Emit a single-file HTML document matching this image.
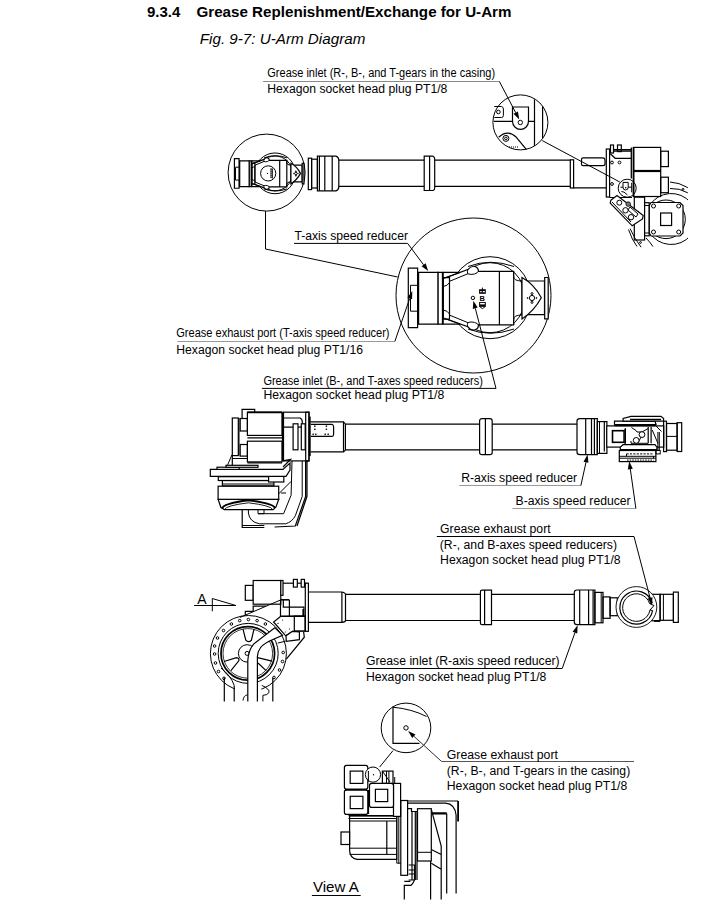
<!DOCTYPE html>
<html><head><meta charset="utf-8">
<style>
html,body{margin:0;padding:0;background:#fff;width:726px;height:912px;overflow:hidden}
svg{position:absolute;left:0;top:0;display:block}
text{font-family:"Liberation Sans",sans-serif;fill:#000}
.l{font-size:12px}
.s{fill:none;stroke:#000;stroke-width:1.2}
.t{fill:none;stroke:#000;stroke-width:1}
.g{fill:none;stroke:#555;stroke-width:1}
.w{fill:#fff;stroke:#000;stroke-width:1.2}
#wrist *{vector-effect:non-scaling-stroke}
</style></head><body>
<svg width="726" height="912" viewBox="0 0 726 912">
<!-- Title -->
<text x="147" y="17" style="font-size:15px;font-weight:bold">9.3.4</text>
<text x="196.5" y="17" style="font-size:15px;font-weight:bold" textLength="315" lengthAdjust="spacingAndGlyphs">Grease Replenishment/Exchange for U-Arm</text>
<text x="199.8" y="43.6" style="font-size:15px;font-style:italic" textLength="165.5" lengthAdjust="spacingAndGlyphs">Fig. 9-7: U-Arm Diagram</text>

<!-- ===== WRIST definition (big coords) ===== -->
<defs>
<g id="wrist">
 <circle cx="490" cy="297.7" r="41" class="t"/>
 <circle cx="490" cy="297.7" r="35" class="t"/>
 <path class="t" d="M468 266.5 Q490 258 514 266.5 M468 329 Q490 337.5 514 329"/>
 <!-- bands & central trapezoid -->
 <path class="w" d="M443.2 278.6 L467.8 269.6 Q471 265.8 474.5 266.3 Q478.6 267.4 478.4 271.4 H513.7 V324.9 H478.4 Q478.6 329 474.5 330 Q471 330.6 467.8 326.8 L443.2 317.8 Z"/>
 <path class="t" d="M449.5 281.3 L467.8 273.8 Q471 275 474.5 274 Q477.5 273 478.4 271.4 M449.5 315.1 L467.8 322.6 Q471 321.4 474.5 322.4 Q477.5 323.4 478.4 324.9"/>
 <path class="t" d="M467.8 269.6 Q467 272 467.8 273.8 M467.8 326.8 Q467 324.4 467.8 322.6"/>
 <line class="s" x1="499.4" y1="271.4" x2="499.4" y2="324.9"/>
 <path class="t" d="M513.7 271.4 Q512.8 278 515.5 279.8 Q518 281 522 281 M513.7 324.9 Q512.8 318 515.5 316.2 Q518 315 522 315"/>
 <!-- triangle end -->
 <rect class="w" x="522" y="281" width="22.5" height="33.7"/>
 <path class="w" d="M522 277.5 Q534 284 541.3 297.7 Q534 311 522 318.9 Z"/>
 <rect class="w" x="544.7" y="277.5" width="3.5" height="41.4"/>
 <circle class="t" cx="532" cy="298" r="2.6"/>
 <circle class="t" cx="532" cy="293.6" r="1"/><circle class="t" cx="532" cy="302.4" r="1"/>
 <circle class="t" cx="527.6" cy="298" r="0.5"/><circle class="t" cx="536.4" cy="298" r="0.5"/>
 <!-- left parts -->
 <path class="s" d="M442.75 272.4 H460.1 M442.75 324.2 H460.1"/>
 <path class="w" d="M443.2 277.7 H449.5 V319.1 H443.2 Z"/>
 <path class="t" d="M443.2 278.6 L460.1 272.4 M443.2 317.8 L460.1 324.2 M449.5 281.3 V315.1"/>
 <path class="t" d="M443.2 286.5 Q447.5 286 449.5 282.5 M443.2 310 Q447.5 310.5 449.5 314"/>
 <rect class="w" x="437.9" y="272.4" width="4.85" height="51.8"/>
 <line x1="442.75" y1="272.4" x2="442.75" y2="324.2" stroke="#000" stroke-width="1.8"/>
 <rect class="w" x="417.6" y="272.4" width="20.3" height="51.8"/>
 <line x1="418.3" y1="272.4" x2="418.3" y2="324.2" stroke="#000" stroke-width="1.8"/>
 <rect class="w" x="408.3" y="268.2" width="9.3" height="59.5"/>
 <path class="t" d="M417.6 285.3 H410.5 V311.2 H417.6"/>
</g>
</defs>

<!-- ===== TOP ARM ===== -->
<circle cx="266.6" cy="172.6" r="38.5" class="t"/>
<use href="#wrist" transform="translate(31.5,25.4) scale(0.497)"/>
<circle class="t" cx="268.2" cy="173.4" r="7.6"/><circle cx="267.5" cy="173.4" r="0.6" fill="#000"/>
<path d="M271 168.5 V178.5" stroke="#000" stroke-width="1.6" stroke-dasharray="1.2 0.8"/><path class="t" d="M272.3 168.5 V178.5"/>
<path class="t" d="M265.5 211.1 V249 L397.7 277"/>

<!-- flange pieces -->
<rect class="s" x="308.3" y="158.2" width="3.3" height="31.4"/>
<rect class="s" x="311.6" y="159.2" width="5.8" height="28.8"/>
<path class="s" d="M317.4 156.1 H336 Q338.8 157 338.8 160 V187 Q338.8 190 336 190.8 H317.4 Z"/>
<path class="s" d="M319.4 156.1 V190.8 M324.8 156.1 V190.8 M332.2 156.1 V190.8"/>
<!-- tube -->
<path class="s" d="M338.8 160.2 H424.2 M434.7 160.2 H570.3 M338.8 186.3 H424.2 M434.7 186.3 H570.3"/>
<path class="s" d="M424.2 156.2 H433 Q434.7 157 434.7 159 V188 Q434.7 190 433 190.5 H424.2 Z M429.6 156.2 V190.5"/>
<rect class="s" x="570.3" y="159.8" width="3.3" height="28.2"/>
<path class="s" d="M573.6 187.9 H606.3"/>
<path class="s" d="M581.5 159.5 Q581.5 157.8 583 157.8 H603 Q605 158 605 160 V164 Q605 165.6 603 165.6 H583 Q581.5 165.6 581.5 164 Z"/>
<rect class="s" x="606.3" y="149" width="3.3" height="48"/>
<!-- casing -->
<rect class="s" x="610.5" y="145" width="3" height="8"/>
<rect class="s" x="617.5" y="145" width="3.8" height="6.6"/>
<path class="s" d="M613.4 149.6 H631.3 M613.4 151.2 H631.3 M610.3 153.8 L615.2 158.3 H631.3 M609.6 197.5 H632"/>
<path d="M631.3 147.6 V178.6" stroke="#000" stroke-width="1.3"/><path d="M633.7 147.4 V197" stroke="#000" stroke-width="1.6"/>
<rect class="s" x="633.3" y="147.4" width="27.4" height="23.1"/>
<rect class="s" x="660.7" y="151.2" width="7.7" height="15.4"/>
<rect class="s" x="633.3" y="171.5" width="27.4" height="25"/>
<rect class="s" x="660.7" y="177.2" width="7.7" height="15.5"/>
<circle class="t" cx="612" cy="162.5" r="1.4"/><circle class="t" cx="619.5" cy="162.5" r="1.4"/><circle class="t" cx="612" cy="184" r="1.4"/>
<circle class="t" cx="627.2" cy="188.2" r="9"/>
<path class="t" d="M623 182.4 H628.2 V187.2 Q628.2 190 625.6 190 Q623 190 623 187.2 Z M620.5 187.2 H623 M628.2 187.2 H631.7 M631.7 182.7 V192.3"/><path class="t" d="M621.3 191.6 Q623.6 190.8 627.5 195"/>
<circle cx="625.7" cy="187.8" r="0.8" fill="#000"/>
<!-- lower motor -->
<clipPath id="clipR"><rect x="600" y="170" width="88" height="100"/></clipPath>
<g clip-path="url(#clipR)">
<path class="t" d="M670 182 A38 38 0 0 1 700 200 M670 188.5 A31.5 31.5 0 0 1 700 206"/>
<circle class="t" cx="683" cy="189.3" r="0.9"/>
<path class="t" d="M647 211 A25.5 25.5 0 1 1 647 227"/>
<circle cx="666" cy="219.3" r="19.3" class="t"/>
</g>
<rect class="w" x="634.3" y="197.2" width="10.3" height="42.8"/>
<rect class="w" x="644.6" y="202.7" width="4.6" height="33.1"/>
<path class="t" d="M644.6 205.5 H649.2 M644.6 233 H649.2"/>
<path class="w" d="M651 202.5 H680 L683 205.5 V233 L680 236 H651 L649.3 233 V205.5 Z"/>
<rect class="s" x="660.6" y="213" width="11" height="12.5"/>
<circle class="t" cx="653.5" cy="206" r="2"/><circle class="t" cx="678.7" cy="206" r="2"/>
<circle class="t" cx="653.5" cy="232" r="2"/><circle class="t" cx="678.7" cy="232" r="2"/>
<path class="w" d="M610.8 200.3 L617 195.5 L643.2 215.5 L642.5 218.9 L632.2 225.8 L610.2 203.1 Z"/>
<path class="t" d="M612 202 L631 222 M638 211 L641 214"/>
<circle class="t" cx="619.3" cy="202.7" r="2.5"/>
<circle cx="628.2" cy="204.1" r="2.3" fill="#777" stroke="#000" stroke-width="0.8"/>
<circle class="t" cx="625.5" cy="210.3" r="2.7"/>
<circle class="t" cx="631" cy="217.2" r="2.7"/>
<path class="t" d="M630 207 L638 214 L636 217 L628 210 Z"/>
<path class="t" d="M630.1 228.6 Q634 238 641.1 247.2 M628.5 229.5 Q632 240 637 246.5"/><circle class="t" cx="640.5" cy="242.5" r="0.9"/><path class="t" d="M646 238 Q650 242 652.9 246.5"/>
<!-- top inset magnifier -->
<circle cx="520.4" cy="122.4" r="27.5" class="t"/>
<path class="s" d="M493.8 121.3 H512.5 M528.5 121.3 H534.5"/>
<path class="s" d="M512.5 121.3 V107 H528.5 V121.3 A8 8 0 0 1 512.5 121.3"/>
<circle class="t" cx="520.3" cy="122.5" r="2.2"/>
<path class="s" d="M534.5 99.3 V146 M542.6 106.4 V137.9"/>
<path class="t" d="M494.3 106.5 H501.5 Q503.4 107 503.4 109 V115.5 Q503.4 117.5 501.5 117.5 H494.3"/>
<circle class="t" cx="498.4" cy="112" r="1.8"/>
<path class="s" d="M498.7 137.3 Q507.5 129 516.4 137.3 L526.3 149.4"/>
<circle class="t" cx="505.9" cy="138.4" r="3"/>
<circle class="t" cx="505.9" cy="138.4" r="1.3"/>
<path class="t" d="M509 147 H518" stroke-dasharray="1 1"/>
<path class="t" d="M542.3 140.6 L619.8 182 M560 149.9"/>
<path d="M263.1 81.5 H499.4" stroke="#8a8a8a" stroke-width="1" fill="none"/><path class="t" d="M499.4 81.5 L515.7 112.7"/>
<path d="M519.3 119.6 L513.5 113.8 L517.9 111.5 Z" fill="#000"/>

<!-- ===== T-AXIS BIG CIRCLE ===== -->
<circle cx="473.5" cy="295.5" r="77.5" class="t"/>
<use href="#wrist"/>
 <!-- B marking -->
 <rect x="479.1" y="289.2" width="6.7" height="4.6" fill="#000"/>
 <rect x="480.2" y="291" width="1.4" height="1.3" fill="#fff"/><rect x="482.8" y="291" width="2" height="1.3" fill="#fff"/>
 <path d="M482.4 287.6 V289.5" stroke="#000" stroke-width="1"/>
 <text x="479.6" y="300.8" style="font-size:7.6px;font-weight:bold" textLength="5.4" lengthAdjust="spacingAndGlyphs">B</text>
 <rect x="479.1" y="302" width="6.7" height="4.8" fill="#000"/>
 <rect x="480.1" y="302.9" width="4.7" height="1.5" fill="#fff"/>
 <path class="t" d="M479.6 306.5 L482.5 308.6 L485.3 306.5"/>
 <circle class="t" cx="472.9" cy="297.9" r="1.7"/>

<path class="t" d="M294 243.4 H407.6 L423.6 264.8"/>
<path d="M428.2 271.0 L421.6 266.3 L425.6 263.3 Z" fill="#000"/>
<path d="M177.4 341.5 H394.8" stroke="#9a9a9a" stroke-width="1" fill="none"/><path class="t" d="M394.8 341.5 L409.7 298.5"/>
<path d="M412.3 291.1 L412.1 299.3 L407.4 297.6 Z" fill="#000"/>
<path class="t" d="M261.9 388.4 H496 L475.3 308.3"/>
<path d="M473.3 300.7 L477.7 307.6 L472.8 308.9 Z" fill="#000"/>

<!-- ===== SECOND ARM ===== -->
<!-- cable / pipes behind -->
<path class="t" d="M248.4 509.6 V513 Q249.5 522 259.5 523.8 H285.6 Q292 522 295.3 515.8 L302.2 496.5 V461"/>
<path class="t" d="M258 509.6 V513.7 H283.6 L291.1 495.2 L292 461"/>
<path class="t" d="M258 513.7 H264 V509.6"/>
<path class="s" d="M305.6 461 V496.5 L295.3 526 L274.6 527 M307 461 V496.5 L297 526"/>
<path class="t" d="M278.7 493.8 L291.1 481.4 M281 493 H286"/>
<path class="s" d="M242.2 509.6 V527.5 H264.3"/>
<path class="t" d="M242.2 525.5 H264.3"/>
<!-- base plates -->
<path class="w" d="M218.1 499.3 L220.9 507.5 L224.3 509.6 H273.2 L276 507 L278.7 499.3 Z"/>
<path d="M222.3 508.5 Q223 503.5 248.4 500.3 Q273.5 503.5 275 508" fill="none" stroke="#000" stroke-width="1.9"/>
<path d="M224.5 509.6 Q226 505.5 248.4 502.8 Q271 505.5 272.8 509.6" fill="none" stroke="#000" stroke-width="0.9"/>
<rect class="w" x="218.1" y="486.2" width="60.6" height="13.1"/>
<rect class="w" x="222.4" y="480.5" width="51.5" height="5.3"/>
<line class="t" x1="222.4" y1="484" x2="273.9" y2="484"/>
<rect class="w" x="218.3" y="476.7" width="50.3" height="3.8"/>
<rect class="w" x="268.6" y="476" width="15.2" height="6"/>
<path class="w" d="M210.3 469.4 H283 L290 463 V470 L286 476.4 H210.3 Z"/>
<rect class="w" x="217" y="467.2" width="22.2" height="2.2"/>
<rect class="w" x="226" y="465.3" width="32" height="2"/>
<path class="t" d="M232 454.7 L227.7 464.8"/>
<!-- motors & frame -->
<rect class="w" x="232.3" y="418" width="6" height="37.6"/>
<line class="t" x1="239" y1="418" x2="239" y2="455.6"/>
<path class="w" d="M242.1 418 V409.3 H254.7 V412.7"/>
<rect class="s" x="240.2" y="418.5" width="7.2" height="12.5"/>
<rect class="s" x="240.2" y="444.5" width="7.2" height="11.6"/>
<path class="s" d="M232.3 455.6 V465 M232.3 458.5 H247.4"/>
<rect class="w" x="283.5" y="412.2" width="25.5" height="48.7"/>
<rect class="w" x="247.4" y="412.2" width="34.6" height="23.2"/>
<line x1="247.4" y1="412.4" x2="282" y2="412.4" stroke="#000" stroke-width="1.8"/>
<path class="s" d="M247.4 437.8 H282" stroke-width="1.8"/>
<rect class="w" x="247.4" y="441.2" width="34.6" height="20.7"/>
<path class="s" d="M247.4 462.9 H282 M282.5 412.2 V461"/>
<path class="s" d="M283.5 418 H300 Q302.3 419 302.3 422 V424 Q302.3 427.2 300 427.2 H283.5"/>
<rect class="w" x="293.1" y="423.8" width="4.9" height="26"/>
<rect class="w" x="301.3" y="423.8" width="3.9" height="26"/>
<rect class="s" x="305.7" y="412.2" width="3.3" height="48.7"/>
<path d="M309.8 416.6 V456.1" stroke="#000" stroke-width="1.8"/>
<path class="s" d="M282.5 460.9 L290.5 459.5 L283 467"/>
<!-- upper arm -->
<path class="s" d="M310.5 421.9 H343.5 V451.8 H310.5"/>
<path class="s" d="M311 424.3 H332 Q333.6 425 333.6 427 V434.5 Q333.6 436.3 332 436.3 H311"/>
<path d="M314.0 426.2 h1.6 M314.8 425.4 v1.6 M314.0 429.3 h1.6 M314.8 428.5 v1.6 M325.6 426.2 h1.6 M326.4 425.4 v1.6 M325.6 429.3 h1.6 M326.4 428.5 v1.6 M312.4 434.3 h1.6 M313.2 433.5 v1.6 M315.0 434.3 h1.6 M315.8 433.5 v1.6 M324.4 434.3 h1.6 M325.2 433.5 v1.6 M327.4 434.3 h1.6 M328.2 433.5 v1.6" stroke="#000" stroke-width="0.8" fill="none"/>
<path class="s" d="M343.5 422.2 Q345 423 345.4 424.1 V449.7 Q345 451 343.5 451.7"/>
<!-- tube -->
<path class="s" d="M345.4 424.1 H479.6 M492.2 424.1 H577 M345.4 449.9 H479.6 M492.2 449.9 H577"/>
<path class="s" d="M479.6 420.5 Q480 418.7 482 418.7 H490 Q492.2 418.7 492.2 421 V452.5 Q492.2 454.7 490 454.7 H482 Q479.6 454.7 479.6 452.5 Z M485.4 418.7 V454.7"/>
<path class="s" d="M577 421 Q577 418.7 580 418.7 H597.3 V454.7 H580 Q577 454.7 577 452 Z M585.7 418.7 V454.7 M591.5 418.7 V454.7 M594.4 418.7 V454.7"/>
<rect class="s" x="597.3" y="421.6" width="9.6" height="31.8"/>
<path class="t" d="M599.5 421.6 V453.4"/>
<!-- wrist B -->
<rect class="w" x="606.75" y="425.9" width="57" height="21.2"/>
<path class="s" d="M604.3 421.6 V451.5"/>
<rect x="612.5" y="430.7" width="11.6" height="11.6" fill="none" stroke="#000" stroke-width="1.6"/>
<path class="t" d="M624.1 429.5 L625.5 428.5 V443.5 L624.1 444"/>
<path class="t" d="M631.5 427.5 L636 430.5 L637 432 H642 L648.2 428.5 M631 441 V443.3 H648.2 M641 437 L638 443"/>
<circle class="w" cx="642" cy="434.6" r="2.9" style="stroke-width:1"/>
<circle class="w" cx="636.2" cy="440.4" r="2.9" style="stroke-width:1"/>
<path class="s" d="M648.2 426.9 V443.3 M651.1 426.9 V443.3"/>
<path class="t" d="M654 424 L661.5 431.5 M652.2 430 L658 443.5 M657.9 432 V450 M659.3 432 V450"/>
<path class="w" d="M614.5 421.1 H655 L656 424.5 H614.5 Z"/>
<path d="M614.5 425.5 H655" stroke="#000" stroke-width="1.6"/>
<path class="w" d="M623.1 421.1 V418.5 L631 416.3 H661 L663.6 418.5 V421.1 Z"/>
<path d="M630 419.5 H661" stroke="#000" stroke-width="1.5"/>
<path class="w" d="M620.3 447.1 L623.1 444.7 H655 L656.9 447.1 V449.5 H620.3 Z"/>
<rect class="w" x="619.3" y="450.5" width="36.6" height="11.1"/>
<path class="t" d="M626.5 453.9 H653.5" stroke-dasharray="2.2 1.2"/>
<path class="t" d="M619.3 456.3 H655.9 M619.3 458.2 H655.9"/>
<path class="t" d="M627 460.1 H653.5" stroke-dasharray="1.6 1"/>
<path class="t" d="M626.5 453.9 V456.3 M653.5 456.3 V458.2"/>
<rect class="t" x="655.9" y="450.5" width="4.3" height="3.4"/>
<rect class="s" x="663.6" y="421.2" width="2.9" height="30.4"/>
<rect class="s" x="666.5" y="423.5" width="10.6" height="26.7"/>
<line class="t" x1="666.5" y1="436.4" x2="677.1" y2="436.4"/>
<rect class="s" x="677.1" y="422.7" width="4.6" height="28.8"/>
<!-- leaders -->
<path d="M459.2 485.5 H580.9" stroke="#9a9a9a" stroke-width="1" fill="none"/><path class="t" d="M580.9 485.5 L586.0 462.2"/>
<path d="M587.6 454.6 L588.4 462.8 L583.5 461.7 Z" fill="#000"/>
<path d="M512.3 508.5 H635.9" stroke="#9a9a9a" stroke-width="1" fill="none"/><path class="t" d="M635.9 508.5 L630.3 469.0"/>
<path d="M629.2 461.3 L632.8 468.7 L627.8 469.4 Z" fill="#000"/>

<!-- ===== THIRD ARM ===== -->
<!-- A marker -->
<path class="t" d="M194.1 605.5 H235.9 M212.3 598.5 V611.3 M212.3 598.5 L235.9 605.5"/>
<!-- flange wheel -->
<circle class="t" cx="248.4" cy="653.5" r="38"/>
<g class="t">
<circle cx="248.4" cy="619.5" r="1.3"/><circle cx="257.1" cy="620.6" r="1.3"/><circle cx="239.7" cy="620.6" r="1.3"/>
<circle cx="265.4" cy="624" r="1.3"/><circle cx="231.4" cy="624" r="1.3"/>
<circle cx="223.5" cy="630.5" r="1.3"/><circle cx="273.3" cy="630.5" r="1.3"/>
<circle cx="217.5" cy="638" r="1.3"/><circle cx="214.6" cy="646" r="1.3"/><circle cx="214.6" cy="654" r="1.3"/>
<circle cx="215.5" cy="663" r="1.3"/><circle cx="218.5" cy="671.5" r="1.3"/><circle cx="224" cy="678.3" r="1.3"/>
<circle cx="283.2" cy="652.5" r="1.3"/><circle cx="282.5" cy="661.5" r="1.3"/><circle cx="279.5" cy="670" r="1.3"/><circle cx="274" cy="677.5" r="1.3"/>
</g>
<circle class="t" cx="248.2" cy="653.4" r="30"/>
<circle cx="247.8" cy="653.4" r="26.8" fill="none" stroke="#000" stroke-width="1.7"/>

<circle cx="247.8" cy="653.4" r="24.8" fill="none" stroke="#000" stroke-width="0.8"/>
<circle class="t" cx="247.1" cy="653.4" r="8.7"/>
<circle class="t" cx="247.1" cy="653.4" r="2"/>
<path class="s" d="M243 629.2 L245.8 640.2 Q248.5 643 251.4 640.2 L254 629.2 M224 661.5 L236.5 657.6 Q239.5 658 238.8 660.8 L230.9 670.6 M257.6 657.6 L272 661.2 M266.1 670.6 L258 663"/>
<!-- lower vertical lines -->
<rect x="234.8" y="684.5" width="26.5" height="20" fill="#fff"/>
<path class="t" d="M234.2 685.4 L261.8 685.4" style="stroke:none"/>
<path class="s" d="M224.3 677.7 V701.4 M234.2 685.4 V701.4 M272.8 677.7 V701.4"/>
<path class="t" d="M221 668 Q231 676 234.2 685.4"/>
<path class="t" d="M261.8 685.4 Q270 689 269 692.5 Q267.5 695.3 262.9 695.3 V701.4"/>
<path class="t" d="M243 700.5 Q243.5 695.5 247.5 694.8"/>
<!-- arm band (white) -->
<path class="w" d="M247.8 701.4 V660.5 Q248.5 650 253.6 644.1 L274.8 627.7 L282.5 635.4 L269 641.2 Q262 645 260.3 648 Q257.4 652 257.4 656.6 V701.4" />
<path class="t" d="M277.7 643.1 L285.5 641.2"/>
<!-- casing -->
<path class="w" d="M280.5 616.5 L273.6 622 L285.7 635.8 L292.5 631.3 L305.3 631 V616.2 Z"/>
<g fill="#000"><circle cx="282.6" cy="620" r="0.6"/><circle cx="278" cy="623.4" r="0.6"/><circle cx="289.5" cy="629" r="0.6"/><circle cx="285.3" cy="632" r="0.6"/></g>
<path class="w" d="M286 635.8 L292.5 631.3 L299.4 632 V639.6 L286.3 641.3 Z"/>
<path class="s" d="M303.6 631.7 L304.3 637.2 L286.3 659.2"/>

<path class="s" d="M245.3 615.1 V611.3 H253.2 V606.1 H266.2 M253.2 611.3 V611.7"/>
<rect class="w" x="245.3" y="585.4" width="7.9" height="14.9"/>
<rect class="w" x="253.2" y="580.5" width="27.6" height="23.7"/>
<rect class="w" x="280.8" y="580.5" width="2.2" height="14.8"/>
<path class="s" d="M283 583.2 H306.1"/>
<rect class="w" x="293.4" y="579.4" width="3.9" height="7.7"/>
<rect class="w" x="301.2" y="579.4" width="3.3" height="7.7"/>
<path class="t" d="M240 617.4 L280.5 600"/>
<path class="s" d="M280.5 600 V616.2 H303.9 V607.2 H289.4 V616.2 M283.3 600 V607.2 H289.4 V600"/>
<path d="M280.5 599.8 H289.4" stroke="#000" stroke-width="1.6"/>
<rect class="s" x="294.3" y="616.2" width="11" height="14.8"/>
<rect class="s" x="305.3" y="583.2" width="3.1" height="48.1"/>
<path d="M303.2 609 V616" stroke="#000" stroke-width="1.6"/>
<!-- tube -->
<path class="s" d="M308.9 592 H341.9 M308.9 622.4 H341.9 M341.9 592 Q345.5 593 345.5 594.3 V620.5 Q345.5 622 341.9 622.4 V592"/>
<path class="s" d="M345.5 594.3 H480.4 M491.5 594.3 H574.3 M345.5 620.5 H480.4 M491.5 620.5 H574.3"/>
<path class="s" d="M480.4 592 Q480.4 590.2 482 590.2 H491.5 V624.6 H482 Q480.4 624.6 480.4 623 Z M484.6 590.2 V624.6"/>
<path class="s" d="M574.3 592.5 Q574.3 590 577 590 H594.9 V624.6 H577 Q574.3 624.6 574.3 622 Z M579.7 590 V624.6 M588.6 590 V624.6 M593.1 590 V624.6"/>
<rect class="s" x="594.9" y="592.4" width="8.1" height="30.4"/>
<path class="t" d="M601.2 592.4 V622.8"/>
<rect class="s" x="603" y="596.9" width="7.1" height="21.4"/>
<rect class="s" x="610.1" y="597.8" width="7.2" height="17.9"/>
<rect class="s" x="651.9" y="594.3" width="8.2" height="26.5"/>
<rect class="s" x="660.1" y="594.3" width="13.3" height="26"/>
<path class="t" d="M663.4 594.3 V620.3"/>
<rect class="s" x="673.4" y="592.1" width="4.9" height="30.3"/>
<path d="M654 621 H660" stroke="#000" stroke-width="1.8"/>
<circle class="w" cx="636.4" cy="607" r="20.4" style="stroke-width:0.9"/>
<path d="M652.2 603 A16.5 16.5 0 1 0 652.6 610.5" fill="none" stroke="#000" stroke-width="1.2"/>
<path d="M649.6 603.5 A13.8 13.8 0 1 0 650 610" fill="none" stroke="#000" stroke-width="1"/>
<path class="t" d="M649.6 603.5 L654 605.5 L650 610 M652.2 603 L649.6 603.5 M652.6 610.5 L650 610"/>
<!-- leaders -->
<path class="t" d="M436.8 536.5 H634 L650.1 597.9"/>
<path d="M652.0 605.4 L647.7 598.5 L652.5 597.2 Z" fill="#000"/>
<path class="t" d="M366.5 668.5 H562.2 L575.0 632.5"/>
<path d="M577.6 625.2 L577.3 633.4 L572.6 631.7 Z" fill="#000"/>

<!-- ===== VIEW A ===== -->
<circle cx="406" cy="727.9" r="24.8" class="t"/>
<path class="s" d="M393 706.5 V743.4 H419.5"/>
<path class="t" d="M393 707.2 Q412 709 426.5 716.5"/>
<circle class="t" cx="406" cy="727.9" r="2.2"/>
<path d="M441.6 761.5 H634" stroke="#555" stroke-width="1" fill="none"/><path d="M441.6 761.5 L413.9 736.3" stroke="#333" stroke-width="1" fill="none"/>
<path d="M408.1 731.0 L415.5 734.4 L412.2 738.1 Z" fill="#000"/>
<path class="t" d="M393 750.6 L379.6 767.1"/>
<!-- right structure -->
<path class="s" d="M407.6 801 H458.1 M407.6 803.2 H445.6 Q455 804 456.1 815.3 V893.5"/>
<path d="M458.1 801 V821.4" stroke="#000" stroke-width="1.8"/>
<path class="s" d="M431.9 814 H446.7 V893.5 M431.9 812.8 H446.7"/>
<path class="s" d="M431.3 809.3 L441.2 846.2 V899.6 M431.3 849.5 L441.2 854.5 M431.3 863.2 L441.2 869.3"/>
<rect class="w" x="417.5" y="808.7" width="13.8" height="52.3"/>
<path class="t" d="M417.5 852.3 H431.3"/>
<path class="s" d="M430.6 861 V899.6"/>
<path class="s" d="M407.6 808.7 H411.5 V811.5 H417 M412 811.5 V880 M415.3 811.5 V880 M417 811.5 V880"/>
<rect class="w" x="400.8" y="800.5" width="6.8" height="74.8"/>
<path class="t" d="M396.8 783 V863.2 H400.8 M398.8 803 V863.2"/>
<path class="s" d="M408.6 865 H414.5 V880 H408.6 M408.6 870 H414.5 M408.6 874 H414.5"/>
<path class="s" d="M415 875.3 Q415 882 411 885.3 H404.3 V899.6 M404.3 881.4 H410.4"/>
<path class="t" d="M395 833 Q393 841 395 848"/>
<!-- motor body -->
<path class="w" d="M349.6 816 H396.7 V859.3 H357 Q349.6 858 349.6 850 Z"/>
<path class="t" d="M349.6 821 H396.7 M349.6 848.2 H396.7 M349.6 854.4 H396.7"/>
<path class="s" d="M386.8 821 V854.4"/>
<rect class="w" x="341" y="832" width="8.6" height="12.5"/>
<path class="s" d="M348.5 815.6 H395.9 M348.5 818.5 H395.9"/>
<!-- boxes -->
<rect class="w" x="382.4" y="771.1" width="10.6" height="12.3"/>
<path class="t" d="M386.5 771.1 V783.4 M388.9 771.1 V783.4 M394.7 777 V783.4"/>
<rect class="w" x="393.5" y="783.4" width="7.1" height="33"/>
<rect class="w" x="344.4" y="765.3" width="23.4" height="24" rx="2.2"/>
<rect class="s" x="350.2" y="771.1" width="12.7" height="12.3"/>
<rect class="w" x="344.4" y="789.9" width="23.4" height="24.5" rx="2.2"/>
<rect class="s" x="350.2" y="796.3" width="12.7" height="12.3"/>
<path d="M345 789.6 H367" stroke="#000" stroke-width="1.8"/>
<rect class="w" x="369.5" y="783.4" width="24" height="24" rx="2.2"/>
<rect class="s" x="375.4" y="789.3" width="12.3" height="12.3"/>
<path class="s" d="M368.5 790 V814"/>
<circle class="w" cx="373" cy="774.6" r="7.6" style="stroke-width:1"/>
<path class="t" d="M368.4 771 V781.7"/>
<circle cx="373.5" cy="774.8" r="0.7" fill="#000"/>
<path class="t" d="M383 772 L390 782"/>

<!-- Labels -->
<text class="l" x="267.3" y="76.9" textLength="227.8" lengthAdjust="spacingAndGlyphs">Grease inlet (R-, B-, and T-gears in the casing)</text>
<text class="l" x="267.3" y="93" textLength="180.1" lengthAdjust="spacingAndGlyphs">Hexagon socket head plug PT1/8</text>

<text class="l" x="294.4" y="240" textLength="113.6" lengthAdjust="spacingAndGlyphs">T-axis speed reducer</text>

<text class="l" x="176.3" y="336.9" textLength="213.2" lengthAdjust="spacingAndGlyphs">Grease exhaust port (T-axis speed reducer)</text>
<text class="l" x="176.3" y="353.9" textLength="186.7" lengthAdjust="spacingAndGlyphs">Hexagon socket head plug PT1/16</text>

<text class="l" x="263.4" y="384.6" textLength="219.5" lengthAdjust="spacingAndGlyphs">Grease inlet (B-, and T-axes speed reducers)</text>
<text class="l" x="263.4" y="399.4" textLength="180.9" lengthAdjust="spacingAndGlyphs">Hexagon socket head plug PT1/8</text>

<text class="l" x="461.2" y="482" textLength="115.8" lengthAdjust="spacingAndGlyphs">R-axis speed reducer</text>
<text class="l" x="515.6" y="504.7" textLength="115.0" lengthAdjust="spacingAndGlyphs">B-axis speed reducer</text>

<text class="l" x="440.1" y="532.9" textLength="110.5" lengthAdjust="spacingAndGlyphs">Grease exhaust port</text>
<text class="l" x="439.8" y="548.7" textLength="177.2" lengthAdjust="spacingAndGlyphs">(R-, and B-axes speed reducers)</text>
<text class="l" x="440.1" y="563.7" textLength="180.5" lengthAdjust="spacingAndGlyphs">Hexagon socket head plug PT1/8</text>

<text x="197.2" y="603.5" style="font-size:14px">A</text>

<text class="l" x="365.9" y="664.7" textLength="193.7" lengthAdjust="spacingAndGlyphs">Grease inlet (R-axis speed reducer)</text>
<text class="l" x="365.9" y="681.2" textLength="180.5" lengthAdjust="spacingAndGlyphs">Hexagon socket head plug PT1/8</text>

<text class="l" x="446.8" y="758.8" textLength="111.1" lengthAdjust="spacingAndGlyphs">Grease exhaust port</text>
<text class="l" x="446.8" y="774.7" textLength="183.4" lengthAdjust="spacingAndGlyphs">(R-, B-, and T-gears in the casing)</text>
<text class="l" x="446.8" y="789.7" textLength="180.5" lengthAdjust="spacingAndGlyphs">Hexagon socket head plug PT1/8</text>

<text x="312.9" y="891.6" style="font-size:15px" textLength="45.9" lengthAdjust="spacingAndGlyphs">View A</text>
<line class="t" x1="311.9" y1="895.5" x2="360.7" y2="895.5"/>

</svg>
</body></html>
